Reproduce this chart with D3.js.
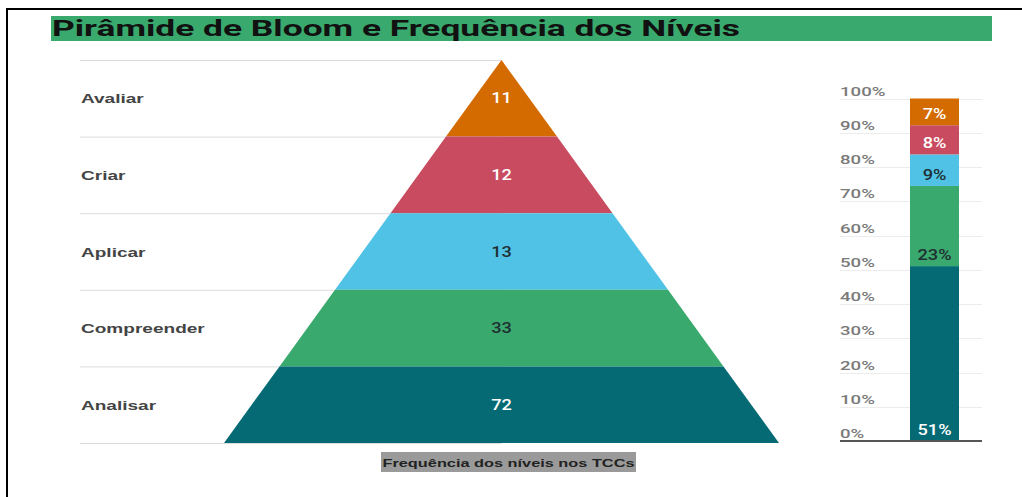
<!DOCTYPE html>
<html><head><meta charset="utf-8">
<script src="https://cdn.jsdelivr.net/npm/d3@7"></script>
<style>html,body{margin:0;padding:0;background:#fff;}svg{display:block;}</style>
</head><body>
<script>
// ---- data ----
const levels = ["Avaliar", "Criar", "Aplicar", "Compreender", "Analisar"];
const counts = [11, 12, 13, 33, 72];
const pctLabels = ["7%", "8%", "9%", "23%", "51%"];
const levelColors = ["#d46b00", "#c84b5f", "#50c2e6", "#3aa96d", "#056a74"];
const valueTextColors = ["#fff", "#fff", "#1f2f33", "#1f2f33", "#fff"];
const pctTextColors = ["#fff", "#fff", "#1f2f33", "#1f2f33", "#fff"];
const pctTicks = [0, 0.1, 0.2, 0.3, 0.4, 0.5, 0.6, 0.7, 0.8, 0.9, 1.0];
const title = "Pirâmide de Bloom e Frequência dos Níveis";
const caption = "Frequência dos níveis nos TCCs";

const W = 1022, H = 497, SX = 1.38;
const svg = d3.select("body").append("svg").attr("width", W).attr("height", H);

function stext(g, x, y, str, opts) {
  return g.append("text")
    .attr("transform", `translate(${x},${y}) scale(${opts.sx || SX},1)`)
    .attr("text-anchor", opts.anchor || "start")
    .attr("font-family", opts.family || "Roboto")
    .attr("font-size", opts.size || 14)
    .attr("font-weight", opts.weight || "normal")
    .attr("fill", opts.fill || "#000")
    .text(str);
}

// frame
svg.append("path").attr("d", `M7,${H} V9 H${W}`).attr("fill", "none").attr("stroke", "#000").attr("stroke-width", 2);

// title
svg.append("rect").attr("x", 51).attr("y", 16).attr("width", 941).attr("height", 25).attr("fill", "#3aa96d");
svg.append("text").attr("x", 52).attr("y", 36)
  .attr("font-family", "Roboto").attr("font-size", 22).attr("font-weight", "bold").attr("fill", "#111")
  .attr("textLength", 688).attr("lengthAdjust", "spacingAndGlyphs")
  .text(title);

// ---- pyramid ----
const top0 = 60, base = 443, cx = 501.5, halfBase = 277.5;
const yBand = d3.scaleBand().domain(levels).range([top0, base]).padding(0);
const halfW = d3.scaleLinear().domain([top0, base]).range([0, halfBase]);

const pg = svg.append("g");
const bounds = levels.map(l => yBand(l)).concat([base]);
pg.selectAll("line.grid").data(bounds).join("line")
  .attr("x1", 80).attr("x2", cx).attr("y1", d => d + 0.5).attr("y2", d => d + 0.5)
  .attr("stroke", "#dcdcdc").attr("stroke-width", 1);

pg.selectAll("path.layer").data(levels).join("path")
  .attr("d", (l) => {
    const y0 = yBand(l), y1 = y0 + yBand.bandwidth();
    return `M${cx - halfW(y0)},${y0} L${cx + halfW(y0)},${y0} L${cx + halfW(y1)},${y1} L${cx - halfW(y1)},${y1} Z`;
  })
  .attr("fill", (l, i) => levelColors[i]);

levels.forEach((l, i) => {
  const yc = yBand(l) + yBand.bandwidth() / 2;
  stext(pg, 81, yc + 5, l, {family: "Liberation Sans", weight: "bold", size: 13.5, fill: "#444", sx: 1.41});
  stext(pg, cx, yc + 5, String(counts[i]), {family: "Roboto", size: 14, weight: 500, fill: valueTextColors[i], anchor: "middle", sx: 1.3});
});

// caption
svg.append("rect").attr("x", 381).attr("y", 452).attr("width", 255).attr("height", 20).attr("fill", "#9a9a9a");
stext(svg, 508.5, 466.5, caption, {family: "Liberation Sans", weight: "bold", size: 11.5, fill: "#222", anchor: "middle", sx: 1.42});

// ---- stacked percentage bar ----
const total = d3.sum(counts);
const y = d3.scaleLinear().domain([0, 1]).range([441, 98.5]);
const x = d3.scaleBand().domain(["TCCs"]).range([840, 982]).paddingInner(0).paddingOuter(0);
const bx = 910, bw = 49;
const bg = svg.append("g");

bg.selectAll("line.pgrid").data(pctTicks.slice(1)).join("line")
  .attr("x1", x.range()[0]).attr("x2", x.range()[1])
  .attr("y1", d => Math.round(y(d)) + 0.5).attr("y2", d => Math.round(y(d)) + 0.5)
  .attr("stroke", "#ececec");

pctTicks.forEach(t => {
  stext(bg, 840, y(t) - 3, d3.format(".0%")(t), {family: "Roboto", size: 13.5, weight: 500, fill: "#7a7a7a", sx: 1.38});
});

// stack from bottom (Analisar) up
const order = d3.range(levels.length).reverse();
let acc = 0;
const segs = order.map(i => { const s = {i, y0: acc, y1: acc + counts[i] / total}; acc = s.y1; return s; });
bg.selectAll("rect.seg").data(segs).join("rect")
  .attr("x", bx).attr("width", bw)
  .attr("y", d => y(d.y1)).attr("height", d => y(d.y0) - y(d.y1))
  .attr("fill", d => levelColors[d.i]);

segs.forEach(s => {
  stext(bg, bx + bw / 2, y(s.y0) - 6, pctLabels[s.i], {family: "Roboto", size: 14, weight: 500, fill: pctTextColors[s.i], anchor: "middle", sx: 1.3});
});

bg.append("line").attr("x1", 840).attr("x2", 982).attr("y1", 441).attr("y2", 441)
  .attr("stroke", "#555").attr("stroke-width", 2);
</script>
</body></html>
